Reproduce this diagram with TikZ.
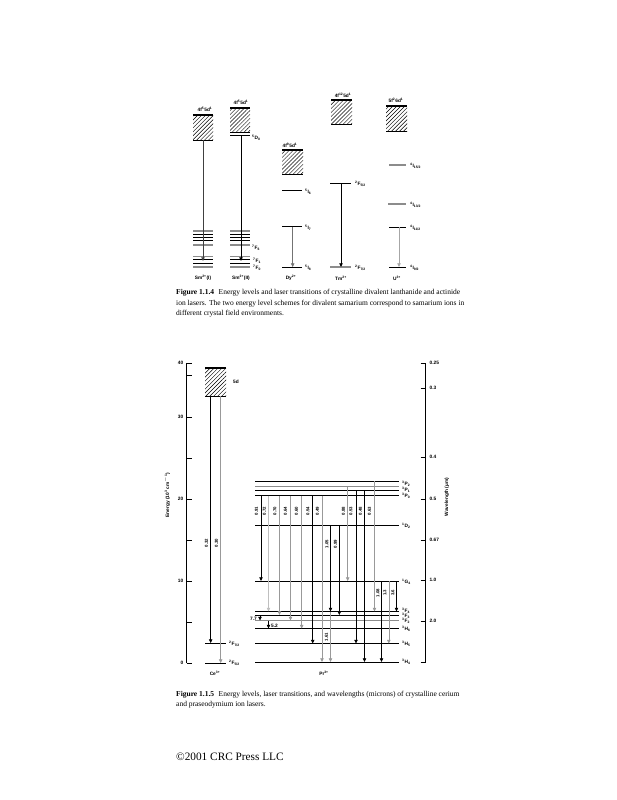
\documentclass[tikz,border=0pt]{standalone}
\usepackage{fontspec}
\setmainfont{Liberation Serif}
\setsansfont{Liberation Sans}
\usetikzlibrary{arrows.meta,patterns.meta}
\newcommand{\supx}[1]{\textsuperscript{#1}}
\newcommand{\subx}[1]{\textsubscript{#1}}
\begin{document}
\begin{tikzpicture}[x=1pt,y=-1pt,
  lv/.style={line width=0.9pt},
  lvg/.style={line width=1.3pt, black!45},
  bx/.style={line width=1.3pt},
  hatch/.style={pattern={Lines[angle=45,distance=2.8pt,line width=0.45pt]}},
  ar/.style={line width=0.6pt, -{Triangle[width=3.4pt,length=3.6pt]}},
  arg/.style={ar, black!40},
  tl/.style={font=\sffamily\bfseries\fontsize{4.8}{5}\selectfont, inner sep=0pt},
  wl/.style={font=\sffamily\bfseries\fontsize{4.3}{5}\selectfont, inner sep=0pt, rotate=90},
  ax/.style={font=\sffamily\bfseries\fontsize{4.8}{5}\selectfont, inner sep=0pt},
  captxt/.style={font=\fontsize{7.5}{8}\selectfont, inner sep=0pt, anchor=base west}
]
\useasboundingbox (0,0) rectangle (617,800);
\fill[white] (0,0) rectangle (617,800);

% ================= Figure 1.1.4 =================
% Sm2+(I)
\fill[hatch] (193,115) rectangle (213,140);
\draw[bx] (193,115) -- (213,115);
\draw[lv] (193,140) -- (213,140);
\foreach \y/\s in {231/lvg,234/lv,237/lv,240/lv,245/lvg,256.5/lvg,259/lv,263.5/lv,267/lvg}
  \draw[\s] (193,\y) -- (213,\y);
\draw[ar, black!75] (203,140) -- (203,261);
\node[tl] (c1) at (205,109) {4f\supx{5}5d\supx{1}};
\node[tl] (i1) at (203,278) {Sm\supx{2+}(I)};

% Sm2+(II)
\fill[hatch] (230,108) rectangle (250,132);
\draw[bx] (230,108) -- (250,108);
\draw[lv] (230,132) -- (250,132);
\draw[lv] (230,135.5) -- (250,135.5);
\foreach \y/\s in {231/lvg,234/lv,237/lv,240/lv,245/lvg,256.5/lvg,259/lv,263.5/lv,267/lvg}
  \draw[\s] (230,\y) -- (250,\y);
\draw[ar] (241,135.5) -- (241,261);
\node[tl] (c2) at (241,102) {4f\supx{5}5d\supx{1}};
\node[tl, anchor=west] (d0) at (252,138) {\supx{5}D\subx{0}};
\node[tl, anchor=west] (f6) at (252,247.5) {\supx{7}F\subx{6}};
\node[tl, anchor=west] (f1) at (253,261) {\supx{7}F\subx{1}};
\node[tl, anchor=west] (f0) at (253,268) {\supx{7}F\subx{0}};
\node[tl] (i2) at (241,278) {Sm\supx{2+}(II)};

% Dy2+
\fill[hatch] (282,150) rectangle (303,174);
\draw[bx] (282,150) -- (303,150);
\draw[lv] (282,174) -- (303,174);
\draw[lv] (282,190) -- (302,190);
\draw[lv] (282,226.7) -- (302,226.7);
\draw[lv] (282,267) -- (302,267);
\draw[ar, black!55] (292.7,226.7) -- (292.7,267);
\node[tl] (c3) at (290,145) {4f\supx{9}5d\supx{1}};
\node[tl, anchor=west] (dy6) at (305,192) {\supx{5}I\subx{6}};
\node[tl, anchor=west] (dy7) at (305,228) {\supx{5}I\subx{7}};
\node[tl, anchor=west] (dy8) at (305,268) {\supx{5}I\subx{8}};
\node[tl] (i3) at (291,278) {Dy\supx{2+}};

% Tm2+
\fill[hatch] (331,100) rectangle (352,124);
\draw[bx] (331,100) -- (352,100);
\draw[lv] (331,124) -- (352,124);
\draw[lv] (330,183) -- (351,183);
\draw[lvg] (330,267) -- (351,267);
\draw[ar] (341,183) -- (341,267);
\node[tl] (c4) at (343,95.5) {4f\supx{12}5d\supx{1}};
\node[tl, anchor=west] (tm1) at (355,184) {\supx{2}F\subx{5/2}};
\node[tl, anchor=west] (tm2) at (355,268) {\supx{2}F\subx{7/2}};
\node[tl] (i4) at (341,278) {Tm\supx{2+}};

% U3+
\fill[hatch] (386,106) rectangle (407,131);
\draw[bx] (386,106) -- (407,106);
\draw[lv] (386,131) -- (407,131);
\draw[lvg] (389,165) -- (406,165);
\draw[lvg] (388,204) -- (406,204);
\draw[lv] (389,227.3) -- (406,227.3);
\draw[lv] (389,267) -- (406,267);
\draw[ar, black!35] (399,227.3) -- (399,267);
\node[tl] (c5) at (396,100) {5f\supx{2}6d\supx{1}};
\node[tl, anchor=west] (u1) at (410,166) {\supx{4}I\subx{15/2}};
\node[tl, anchor=west] (u2) at (410,205) {\supx{4}I\subx{13/2}};
\node[tl, anchor=west] (u3) at (410,228) {\supx{4}I\subx{11/2}};
\node[tl, anchor=west] (u4) at (410,268) {\supx{4}I\subx{9/2}};
\node[tl] (i5) at (397,278) {U\supx{3+}};

% caption 1.1.4
\node[captxt] (cap1a) at (176,294.5) {\textbf{Figure 1.1.4}\hspace{0.6em}Energy levels and laser transitions of crystalline divalent lanthanide and actinide};
\node[captxt] (cap1b) at (176,305) {ion lasers. The two energy level schemes for divalent samarium correspond to samarium ions in};
\node[captxt] (cap1c) at (176,315.5) {different crystal field environments.};

% ================= Figure 1.1.5 =================
% left axis
\draw[line width=0.6pt] (186.5,363) -- (186.5,663);
\foreach \y in {363,375,417,458,499,540,581,622,663}
  \draw[line width=0.6pt] (186.5,\y) -- (191.5,\y);
\foreach \y/\t in {363/40,417/30,499/20,581/10,663/0}
  \node[ax, anchor=east] at (183.5,\y) {\t};
\node[ax, rotate=90] (etitle) at (167,495) {Energy (10\supx{3} cm\supx{$-$1})};
% right axis
\draw[line width=0.6pt] (425.5,363) -- (425.5,662);
\foreach \y in {363,388,457,499,540,580,621,662}
  \draw[line width=0.6pt] (420.5,\y) -- (425.5,\y);
\foreach \y/\t in {363/0.25,388/0.3,457/0.4,499/0.5,540/0.67,580/1.0,621/2.0}
  \node[ax, anchor=west] at (429.5,\y) {\t};
\node[ax, rotate=90] (wtitle) at (447,497) {Wavelength (µm)};

% Ce3+
\fill[hatch] (205,368) rectangle (226,396);
\draw[bx] (205,368) -- (226,368);
\draw[lv] (205,396) -- (226,396);
\node[tl, anchor=west] (ce5d) at (233,382) {5d};
\draw[lv] (205,643) -- (226,643);
\draw[lv] (205,663) -- (226,663);
\node[tl, anchor=west] (ce1) at (229,644) {\supx{2}F\subx{7/2}};
\node[tl, anchor=west] (ce2) at (229,663) {\supx{2}F\subx{5/2}};
\draw[ar] (210.7,396) -- (210.7,643);
\draw[arg] (220.7,396) -- (220.7,663);
\node[wl] (w032) at (206.3,543) {0.32};
\node[wl] (w030) at (216.3,543) {0.30};
\node[tl] (ce) at (215,673) {Ce\supx{3+}};

% Pr3+ levels
\foreach \y/\s in {481/lv,486.5/lvg,490.5/lv,495.5/lv,525/lv,581/lv,611.5/lv,615/lv,620.5/lvg,628.5/lv,643.5/lv,662/lv}
  \draw[\s] (255,\y) -- (399,\y);
\foreach \y/\t in {484/{\supx{3}P\subx{2}},490/{\supx{3}P\subx{1}},496/{\supx{3}P\subx{0}},526/{\supx{1}D\subx{2}},581.5/{\supx{1}G\subx{4}},610.5/{\supx{3}F\subx{4}},615.5/{\supx{3}F\subx{3}},621/{\supx{3}F\subx{2}},628.5/{\supx{3}H\subx{6}},644/{\supx{3}H\subx{5}},661.5/{\supx{3}H\subx{4}}}
  \node[tl, anchor=west] at (402,\y) {\t};
\node[tl] (pr) at (324,673) {Pr\supx{3+}};

% transitions from 3P0
\draw[ar] (261,495.5) -- (261,581);
\draw[arg, black!25] (268.5,495.5) -- (268.5,611.5);
\draw[arg] (279.5,495.5) -- (279.5,615);
\draw[arg] (290.5,495.5) -- (290.5,620.5);
\draw[arg] (301.7,495.5) -- (301.7,628.5);
\draw[ar, line width=0.8pt] (312.7,495.5) -- (312.7,643.5);
\draw[arg] (322,495.5) -- (322,662);
\foreach \x/\t in {256.5/0.91,264.5/0.72,275/0.70,285.5/0.64,296.5/0.60,308/0.54,317.5/0.49}
  \node[wl] at (\x,511) {\t};
% from 1D2
\draw[ar] (330.5,525) -- (330.5,611.5);
\draw[ar] (339.3,525) -- (339.3,615);
\node[wl] at (327,544) {1.05};
\node[wl] at (335.5,544) {0.99};
% from 3P1 / 3P2
\draw[arg] (347.7,486.5) -- (347.7,581);
\draw[ar] (356,490.5) -- (356,643.5);
\draw[ar] (364.5,490.5) -- (364.5,662);
\draw[arg] (374.5,481) -- (374.5,611.5);
\foreach \x/\t in {343.5/0.88,351/0.53,360.5/0.48,369.5/0.63}
  \node[wl] at (\x,511) {\t};
% from 1G4
\draw[ar] (381.5,581) -- (381.5,662);
\draw[arg] (388.8,581) -- (388.8,643.5);
\draw[ar] (396.5,581) -- (396.5,611.5);
\node[wl] at (378,593) {1.08};
\node[wl] at (385,593) {1.3};
\node[wl] at (393,593) {3.6};
% IR transitions
\draw[arg] (330.5,611.5) -- (330.5,662);
\node[wl] at (326.5,637) {1.61};
\draw[ar] (260,615) -- (260,620.5);
\node[tl, anchor=east] at (257,619) {7.7};
\draw[ar] (268.5,620.5) -- (268.5,628.5);
\node[tl, anchor=west] at (271,626) {5.2};

% caption 1.1.5
\node[captxt] (cap2a) at (176,696) {\textbf{Figure 1.1.5}\hspace{0.6em}Energy levels, laser transitions, and wavelengths (microns) of crystalline cerium};
\node[captxt] (cap2b) at (176,706.5) {and praseodymium ion lasers.};

\node[font=\fontsize{11.3}{12}\selectfont, inner sep=0pt, anchor=base west] (copy) at (176,760.5) {©2001 CRC Press LLC};
\end{tikzpicture}
\end{document}
